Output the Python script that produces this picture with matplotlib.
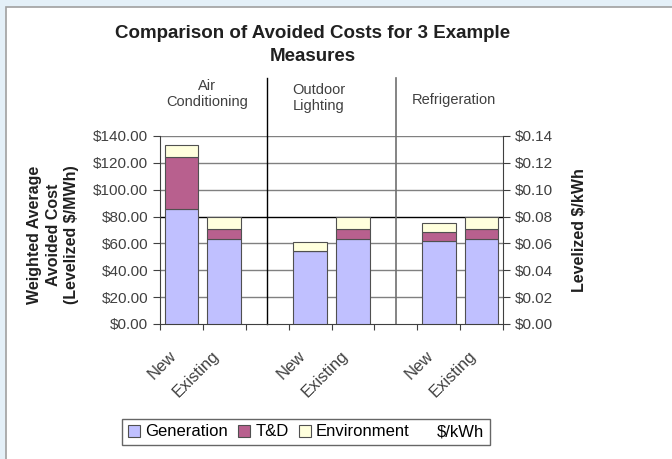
import matplotlib
matplotlib.use("Agg")
import matplotlib.pyplot as plt
import matplotlib.transforms as mtransforms
import numpy as np

plt.rcParams['font.family'] = ['Liberation Sans', 'DejaVu Sans']

# data: 8 slots, empty slots separate the measures
slot_labels = ['New', 'Existing', '', 'New', 'Existing', '', 'New', 'Existing']
generation = [86, 63, 0, 54, 63, 0, 61.6, 63]
t_and_d = [38, 8, 0, 0, 8, 0, 6.6, 8]
environment = [9, 9, 0, 7, 9, 0, 7, 9]
measures = ['Air\nConditioning', 'Outdoor\nLighting', 'Refrigeration']
mwh_ticks = [0, 20, 40, 60, 80, 100, 120, 140]
kwh_ticks = [0.00, 0.02, 0.04, 0.06, 0.08, 0.10, 0.12, 0.14]

gen_col = '#c0c0ff'
td_col = '#b8608e'
env_col = '#ffffdd'
txt_col = '#404040'

fig = plt.figure(figsize=(6.72, 4.59), dpi=100)
fig.patch.set_facecolor('#e4f0f8')
# white chart panel
panel = plt.Rectangle((6 / 672, -0.01), 1, 1 - 7 / 459 + 0.01, transform=fig.transFigure,
                      facecolor='white', edgecolor='#a0a0a0', linewidth=1.2, zorder=-5)
fig.patches.append(panel)

ax = fig.add_axes([160 / 672, 1 - 324 / 459, 343 / 672, 188 / 459])
ax.set_facecolor('white')

x = np.arange(len(slot_labels))
show = [lab != '' for lab in slot_labels]
xs = x[show]
g = np.array(generation)[show]
t = np.array(t_and_d)[show]
e = np.array(environment)[show]
w = 0.79
ax.bar(xs, g, w, color=gen_col, edgecolor='#505050', linewidth=0.8, label='Generation', zorder=3)
ax.bar(xs, t, w, bottom=g, color=td_col, edgecolor='#505050', linewidth=0.8, label='T&D', zorder=3)
ax.bar(xs, e, w, bottom=g + t, color=env_col, edgecolor='#505050', linewidth=0.8, label='Environment', zorder=3)
ax.plot([], [], color='none', label='$/kWh')

ax.set_xlim(-0.5, len(slot_labels) - 0.5)
ax.set_ylim(0, 140)
ax.set_yticks(mwh_ticks)
ax.set_yticklabels(['${:.2f}'.format(v) for v in mwh_ticks], fontsize=11, color=txt_col)
for v in mwh_ticks[1:]:
    ax.axhline(v, color='black' if v == 80 else '#808080', linewidth=1, zorder=1)

ax.set_xticks(np.arange(len(slot_labels) + 1) - 0.5)
ax.set_xticklabels([])
ax.tick_params(axis='x', length=4, color='#404040')
ax.tick_params(axis='y', length=5, color='#404040')
for i in xs:
    ax.text(i - 0.3, -18, slot_labels[i], rotation=45, ha='right', va='top',
            rotation_mode='anchor', fontsize=12, color=txt_col)

for s in ['top', 'right']:
    ax.spines[s].set_visible(False)
ax.spines['left'].set_color('#404040')
ax.spines['bottom'].set_color('#404040')

# separators between measures, reaching up into the header
trans = mtransforms.blended_transform_factory(ax.transData, ax.transAxes)
ax.plot([2, 2], [0, 1.31], color='black', linewidth=1, transform=trans, clip_on=False, zorder=2)
ax.plot([5, 5], [0, 1.31], color='#707070', linewidth=1.2, transform=trans, clip_on=False, zorder=2)

ax.text(0.6, 1.223, measures[0], transform=trans, ha='center', va='center', multialignment='center',
        fontsize=10.5, color=txt_col)
ax.text(3.2, 1.202, measures[1], transform=trans, ha='center', va='center', multialignment='center',
        fontsize=10.5, color=txt_col)
ax.text(6.35, 1.19, measures[2], transform=trans, ha='center', va='center', fontsize=10.5, color=txt_col)

ax2 = ax.twinx()
ax2.set_ylim(0, 0.14)
ax2.set_yticks(kwh_ticks)
ax2.set_yticklabels(['${:.2f}'.format(v) for v in kwh_ticks], fontsize=11, color=txt_col)
ax2.tick_params(axis='y', length=5, color='#404040')
for s in ['top', 'left', 'bottom']:
    ax2.spines[s].set_visible(False)
ax2.spines['right'].set_color('#404040')
ax2.set_ylabel('Levelized $/kWh', fontsize=11.5, fontweight='bold', color='#202020', labelpad=14)

ax.set_ylabel('Weighted Average\nAvoided Cost\n(Levelized $/MWh)', fontsize=11.5,
              fontweight='bold', color='#202020', linespacing=1.3)
ax.yaxis.set_label_coords(-0.235, 0.473)

fig.text(313 / 672, 1 - 45 / 459, 'Comparison of Avoided Costs for 3 Example\nMeasures',
         ha='center', va='center', fontsize=13.5, fontweight='bold', color='#202020', linespacing=1.45)

handles, labels = ax.get_legend_handles_labels()
order = [labels.index(n) for n in ['Generation', 'T&D', 'Environment', '$/kWh']]
leg = ax.legend([handles[i] for i in order], [labels[i] for i in order],
                loc='center', bbox_to_anchor=(306 / 672, 1 - 432 / 459), bbox_transform=fig.transFigure,
                ncol=4, fontsize=12, frameon=True, fancybox=False, handlelength=0.75, handleheight=0.75,
                handletextpad=0.3, columnspacing=0.6, borderpad=0.35)
leg.get_frame().set_edgecolor('#404040')
leg.get_frame().set_linewidth(1)

fig.savefig('out.png', dpi=100, facecolor=fig.get_facecolor())
